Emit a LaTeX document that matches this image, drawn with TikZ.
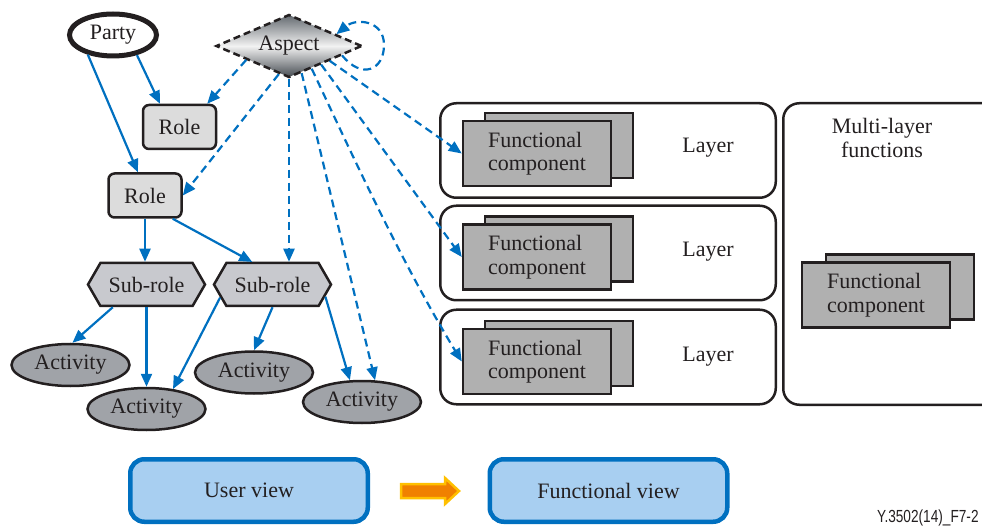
\documentclass[tikz,border=0pt]{standalone}
\usepackage{fontspec}
\setmainfont{Liberation Serif}
\newfontfamily\labelfont{Liberation Sans}
\usetikzlibrary{shapes.geometric,shapes.symbols,arrows.meta,calc}
\definecolor{lnblue}{HTML}{0070C0}
\definecolor{inkc}{HTML}{231F20}
\definecolor{rolefill}{HTML}{DCDCDC}
\definecolor{subfill}{HTML}{C8C9CE}
\definecolor{actfill}{HTML}{A0A3A8}
\definecolor{fcfill}{HTML}{B0B0B0}
\definecolor{viewfill}{HTML}{A8CFF1}
\definecolor{orangec}{HTML}{F08000}
\definecolor{yellowc}{HTML}{FFC000}
\definecolor{asptop}{HTML}{646A70}
\definecolor{aspmid}{HTML}{F2F2F2}
\definecolor{aspbot}{HTML}{464C52}
\begin{document}
\begin{tikzpicture}[x=1pt,y=-1pt,
  font=\fontsize{22}{23.5}\selectfont, text=inkc,
  partynode/.style={ellipse, draw=inkc, line width=5pt, fill=white, minimum width=87pt, minimum height=42pt, inner sep=0pt},
  aspectnode/.style={diamond, shape aspect=2.2, draw=inkc, line width=2.5pt, dash pattern=on 7pt off 4pt,
     top color=asptop, bottom color=aspbot, middle color=aspmid, minimum width=146pt, minimum height=63pt, inner sep=0pt},
  rolebox/.style={rectangle, rounded corners=6pt, draw=inkc, line width=2.5pt, fill=rolefill, minimum width=73pt, minimum height=44pt, inner sep=0pt},
  subrole/.style={signal, signal to=west and east, signal pointer angle=120, draw=inkc, line width=2.5pt, fill=subfill, minimum width=117pt, minimum height=43pt, inner sep=0pt},
  activity/.style={ellipse, draw=inkc, line width=2.5pt, fill=actfill, minimum width=118pt, minimum height=42pt, inner sep=0pt},
  layerbox/.style={rectangle, rounded corners=16pt, draw=inkc, line width=2.5pt, minimum width=335.5pt, minimum height=94.5pt},
  fcbox/.style={rectangle, draw=inkc, line width=2.5pt, fill=fcfill, minimum width=148pt, minimum height=65pt, align=left, inner sep=0pt},
  viewbox/.style={rectangle, rounded corners=14pt, draw=lnblue, line width=4.5pt, fill=viewfill, minimum width=237.5pt, minimum height=62.5pt},
  link/.style={draw=lnblue, line width=2.2pt, -{Triangle[length=13pt,width=11pt]}},
  dlink/.style={link, dash pattern=on 8pt off 5pt},
  plaintext/.style={inner sep=0pt, align=center}
]
\useasboundingbox (0,0) rectangle (982,526);
\clip (0,0) rectangle (982,526);

% left part: user view graph
\node[partynode] (party) at (113,35) {Party};
\node[aspectnode] (aspect) at (289,46) {Aspect};
\node[rolebox] (role1) at (179.5,127) {Role};
\node[rolebox] (role2) at (145,195.5) {Role};
\node[subrole] (sub1) at (146.5,284.5) {Sub-role};
\node[subrole] (sub2) at (272.5,284.5) {Sub-role};
\node[activity] (a1) at (70.5,365) {Activity};
\node[activity] (a2) at (146.5,409) {Activity};
\node[activity] (a3) at (254,372.5) {Activity};
\node[activity] (a4) at (362,402) {Activity};

% right part: functional view
\node[layerbox] (lay1) at (608,150.5) {};
\node[layerbox] (lay2) at (608,253) {};
\node[layerbox] (lay3) at (608,357) {};
\node[rectangle, rounded corners=16pt, draw=inkc, line width=2.5pt, minimum width=215.5pt, minimum height=301.5pt] (multi) at (891,254) {};

\node[fcbox] (fcb1) at (559,145.5) {};
\node[fcbox] (fc1) at (537,153.5) {Functional\\component};
\node[fcbox] (fcb2) at (559,249) {};
\node[fcbox] (fc2) at (537,257) {Functional\\component};
\node[fcbox] (fcb3) at (559,353.5) {};
\node[fcbox] (fc3) at (537,361.5) {Functional\\component};
\node[fcbox] (fcbm) at (900,287) {};
\node[fcbox] (fcm) at (876,295) {Functional\\component};

\node[plaintext] (lt1) at (708,148) {Layer};
\node[plaintext] (lt2) at (708,252) {Layer};
\node[plaintext] (lt3) at (708,357) {Layer};
\node[plaintext, text depth=0pt] (mlt) at (882,138) {Multi-layer\\functions};

% solid links
\draw[link] (party.-40) -- (role1.130);
\draw[link] (party.218) -- (role2.107);
\draw[link] (role2.south) -- (role2.south |- sub1.north);
\draw[link] (role2.-40) -- (sub2.132);
\draw[link] (sub1.214) -- (a1.85);
\draw[link] (sub1.south) -- (a2.north);
\draw[link] (sub2.194) -- (a2.37);
\draw[link] (sub2.south) -- (a3.north);
\draw[link] (sub2.-13) -- (a4.119);

% dashed links from aspect
\draw[dlink] (aspect.198) -- (role1.40);
\draw[dlink] (aspect.250) -- (role2.east);
\draw[dlink] (aspect.south) -- (aspect.south |- sub2.north);
\draw[dlink] (aspect.-65) -- (a4.59);
\draw[dlink] (aspect.-45) .. controls (350,150) and (400,260) .. (fc3.west);
\draw[dlink] (aspect.-30) -- (fc2.west);
\draw[dlink] (aspect.-20) -- (fc1.west);
\draw[dlink] (aspect.-10) .. controls (362,80) and (384,70) .. (384,45) .. controls (384,20) and (356,18) .. (aspect.14);

% bottom legend
\node[viewbox] (uview) at (249,490.5) {User view};
\node[viewbox] (fview) at (608.5,490.5) {Functional view};
\draw[fill=orangec, draw=yellowc, line width=2.5pt, line join=miter]
  (401,484) -- (445,484) -- (445,478) -- (459,491) -- (445,504) -- (445,498) -- (401,498) -- cycle;

\node[anchor=west, inner sep=0pt, xscale=0.78, font=\labelfont\fontsize{17.5}{17.5}\selectfont] (figlabel) at (877,518) {Y.3502(14)\_F7-2};
\end{tikzpicture}
\end{document}
